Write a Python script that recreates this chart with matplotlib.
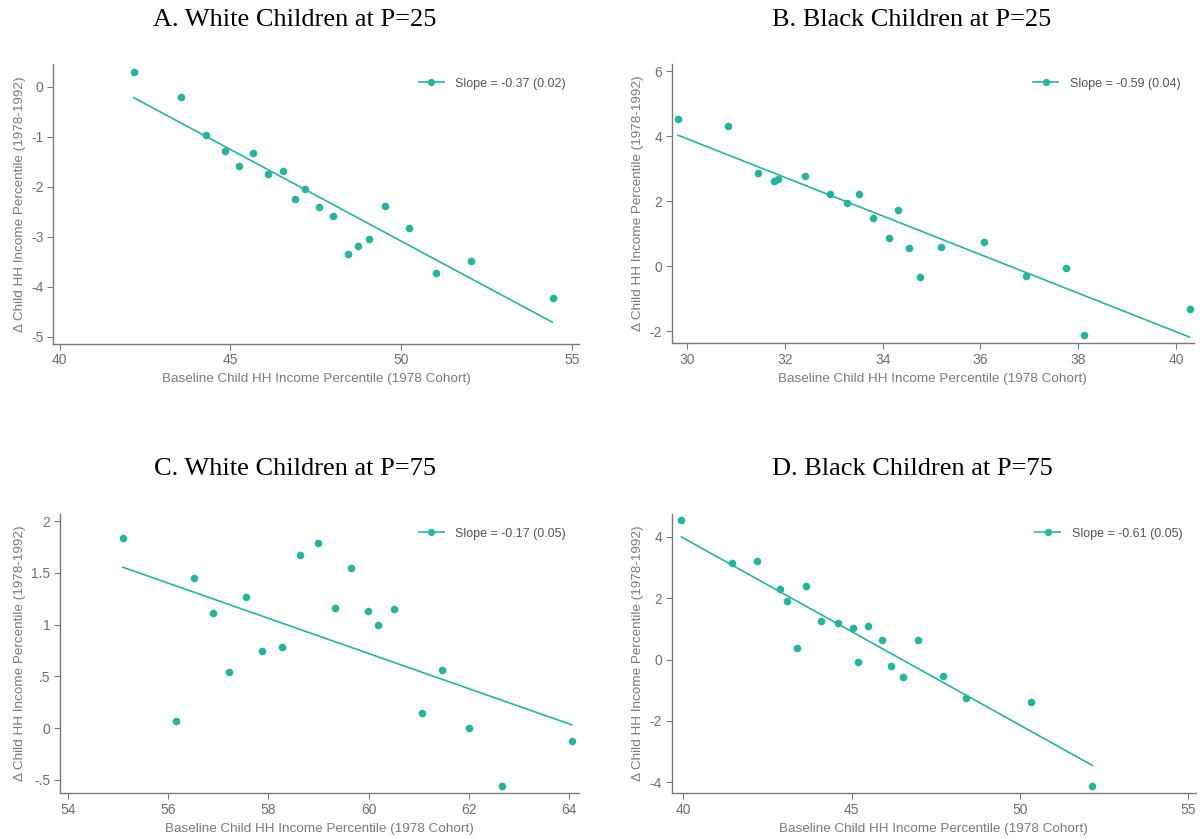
import numpy as np
import matplotlib
matplotlib.use("Agg")
import matplotlib.pyplot as plt
from matplotlib.lines import Line2D

# ---- data ----
a_x = [42.17, 43.56, 44.29, 44.84, 45.24, 45.66, 46.11, 46.53, 47.19, 46.88,
       47.58, 48.01, 48.45, 48.74, 49.07, 49.53, 50.24, 51.02, 52.06, 54.44]
a_y = [0.30, -0.21, -0.96, -1.29, -1.59, -1.32, -1.74, -1.68, -2.04, -2.25,
       -2.41, -2.59, -3.35, -3.19, -3.05, -2.39, -2.82, -3.72, -3.48, -4.22]
a_fit_x = [42.17, 54.43]
a_fit_y = [-0.22, -4.71]

b_x = [29.81, 30.84, 31.44, 31.77, 31.85, 32.40, 32.91, 33.27, 33.52, 33.79,
       34.12, 34.31, 34.53, 34.76, 35.20, 36.07, 36.94, 37.74, 38.12, 40.28]
b_y = [4.54, 4.32, 2.88, 2.61, 2.68, 2.79, 2.23, 1.96, 2.23, 1.48,
       0.88, 1.72, 0.56, -0.34, 0.58, 0.75, -0.29, -0.04, -2.12, -1.33]
b_fit_x = [29.81, 40.28]
b_fit_y = [4.03, -2.18]

c_x = [55.10, 56.15, 56.52, 56.90, 57.22, 57.55, 57.87, 58.28, 58.63, 58.98,
       59.33, 59.64, 59.99, 60.19, 60.51, 61.07, 61.46, 62.01, 62.66, 64.05]
c_y = [1.84, 0.065, 1.45, 1.11, 0.54, 1.27, 0.745, 0.78, 1.67, 1.79,
       1.165, 1.55, 1.135, 1.00, 1.15, 0.15, 0.56, 0.006, -0.56, -0.125]
c_fit_x = [55.10, 64.05]
c_fit_y = [1.555, 0.032]

d_x = [39.94, 41.44, 42.18, 42.88, 43.07, 43.38, 43.64, 44.08, 44.60, 45.04,
       45.20, 45.48, 45.89, 46.16, 46.52, 46.98, 47.72, 48.40, 50.34, 52.15]
d_y = [4.55, 3.15, 3.21, 2.30, 1.91, 0.39, 2.40, 1.27, 1.19, 1.02,
       -0.09, 1.11, 0.64, -0.20, -0.57, 0.65, -0.52, -1.24, -1.37, -4.13]
d_fit_x = [39.94, 52.15]
d_fit_y = [4.00, -3.45]

titles = ["A. White Children at P=25", "B. Black Children at P=25",
          "C. White Children at P=75", "D. Black Children at P=75"]
slopes = ["Slope = -0.37 (0.02)", "Slope = -0.59 (0.04)",
          "Slope = -0.17 (0.05)", "Slope = -0.61 (0.05)"]

a_xticks = [40, 45, 50, 55]
a_yticks = [0, -1, -2, -3, -4, -5]
a_ylabels = ["0", "-1", "-2", "-3", "-4", "-5"]
b_xticks = [30, 32, 34, 36, 38, 40]
b_yticks = [6, 4, 2, 0, -2]
b_ylabels = ["6", "4", "2", "0", "-2"]
c_xticks = [54, 56, 58, 60, 62, 64]
c_yticks = [2, 1.5, 1, 0.5, 0, -0.5]
c_ylabels = ["2", "1.5", "1", ".5", "0", "-.5"]
d_xticks = [40, 45, 50, 55]
d_yticks = [4, 2, 0, -2, -4]
d_ylabels = ["4", "2", "0", "-2", "-4"]

xlabel = "Baseline Child HH Income Percentile (1978 Cohort)"
ylabel = "\u0394 Child HH Income Percentile (1978-1992)"

teal = "#27b49e"
grey = "#7a7a7a"

W, H = 1202, 838
fig = plt.figure(figsize=(W / 100, H / 100), dpi=100)
plt.rcParams["font.family"] = ["Liberation Sans", "DejaVu Sans"]


def rect(left, top, right, bottom):
    return [left / W, 1 - bottom / H, (right - left) / W, (bottom - top) / H]


def draw_panel(box, x, y, fx, fy, title, title_xy, slope, xt, yt, yl, xlim, ylim):
    ax = fig.add_axes(rect(*box))
    ax.scatter(x, y, s=30, color=teal, zorder=3, linewidths=0)
    ax.plot(fx, fy, color=teal, lw=1.2, zorder=2)
    ax.set_xlim(xlim)
    ax.set_ylim(ylim)
    ax.set_xticks(xt)
    ax.set_yticks(yt)
    ax.set_yticklabels(yl)
    for s in ["top", "right"]:
        ax.spines[s].set_visible(False)
    for s in ["left", "bottom"]:
        ax.spines[s].set_color(grey)
        ax.spines[s].set_linewidth(1.0)
    ax.tick_params(colors=grey, labelcolor="#6e6e6e", labelsize=10,
                   length=4, width=0.8, direction="out", pad=3)
    ax.set_xlabel(xlabel, color=grey, fontsize=9.7, labelpad=4)
    ax.set_ylabel(ylabel, color=grey, fontsize=9.7, labelpad=4)
    h = Line2D([], [], color=teal, lw=1.2, marker="o", markersize=5.2,
               markeredgewidth=0)
    leg = ax.legend([h], [slope], loc="upper right", frameon=False,
                    fontsize=9, handlelength=2.0, numpoints=1,
                    borderaxespad=0.7, handletextpad=0.9)
    for t in leg.get_texts():
        t.set_color("#555555")
    fig.text(title_xy[0] / W, 1 - title_xy[1] / H, title,
             family="Liberation Serif", fontsize=19, ha="center", va="center")
    return ax


draw_panel((53.3, 64, 579.3, 343.7), a_x, a_y, a_fit_x, a_fit_y, titles[0], (295, 20),
           slopes[0], a_xticks, a_yticks, a_ylabels, (39.81, 55.22), (-5.14, 0.454))
draw_panel((671.7, 64, 1194, 343.3), b_x, b_y, b_fit_x, b_fit_y, titles[1], (912, 20),
           slopes[1], b_xticks, b_yticks, b_ylabels, (29.68, 40.37), (-2.37, 6.22))
draw_panel((60.3, 514, 579.3, 793.3), c_x, c_y, c_fit_x, c_fit_y, titles[2], (295, 469),
           slopes[2], c_xticks, c_yticks, c_ylabels, (53.85, 64.2), (-0.63, 2.07))
draw_panel((671.7, 514, 1196, 793.3), d_x, d_y, d_fit_x, d_fit_y, titles[3], (912, 469),
           slopes[3], d_xticks, d_yticks, d_ylabels, (39.65, 55.23), (-4.36, 4.75))

fig.savefig("out.png", dpi=100)
